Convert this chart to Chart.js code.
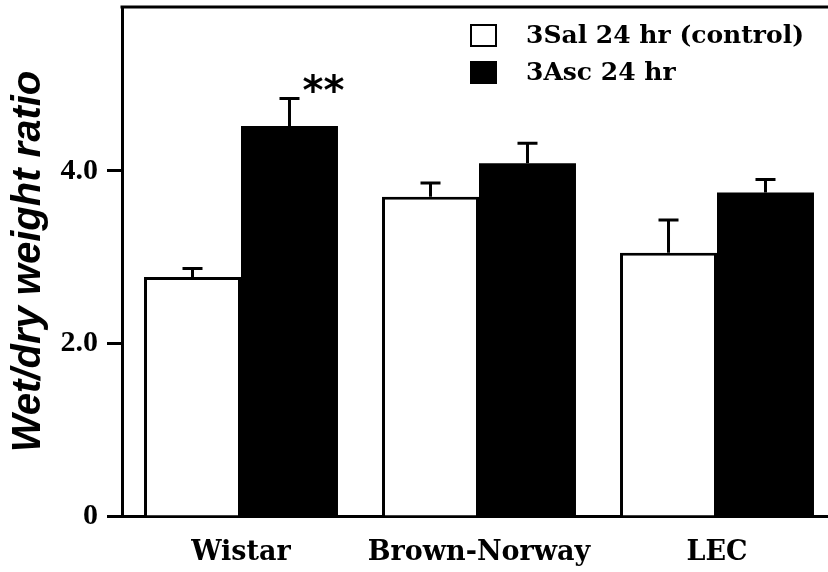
<!DOCTYPE html>
<html>
<head>
<meta charset="utf-8">
<script src="https://cdn.jsdelivr.net/npm/chart.js@4.4.1/dist/chart.umd.min.js"></script>
<style>
  html, body { margin: 0; padding: 0; background: #ffffff; overflow: hidden; }
  #wrap { width: 828px; height: 572px; overflow: hidden; }
  canvas { display: block; }
</style>
</head>
<body>
<div id="wrap"><canvas id="c" width="836" height="572"></canvas></div>
<script>
// ---- data ----
const categories = ['Wistar', 'Brown-Norway', 'LEC'];
const seriesLabels = ['3Sal 24 hr (control)', '3Asc 24 hr'];
const controlValues = [2.77, 3.70, 3.05];
const controlErrors = [0.10, 0.16, 0.38];
const ascValues = [4.52, 4.09, 3.75];
const ascErrors = [0.32, 0.23, 0.15];
const ascSignificance = ['**', '', ''];
const yTickValues = [0, 2, 4];
const yTickLabels = ['0', '2.0', '4.0'];
const yAxisTitle = 'Wet/dry weight ratio';

const serif = '"Liberation Serif", "Times New Roman", serif';
const wideSerif = '"DejaVu Serif", serif';

const errorBarPlugin = {
  id: 'errorBars',
  afterDatasetsDraw(chart) {
    const ctx = chart.ctx;
    const yScale = chart.scales.y;
    chart.data.datasets.forEach((ds, di) => {
      const meta = chart.getDatasetMeta(di);
      meta.data.forEach((bar, i) => {
        const v = ds.data[i];
        const e = ds.errors[i];
        const yTop = yScale.getPixelForValue(v + e);
        const yBar = yScale.getPixelForValue(v);
        ctx.save();
        ctx.strokeStyle = '#000';
        ctx.lineWidth = 3;
        ctx.beginPath();
        ctx.moveTo(bar.x, yBar);
        ctx.lineTo(bar.x, yTop);
        ctx.moveTo(bar.x - 10, yTop);
        ctx.lineTo(bar.x + 10, yTop);
        ctx.stroke();
        const sig = ds.significance ? ds.significance[i] : '';
        if (sig) {
          ctx.fillStyle = '#000';
          ctx.font = 'bold 40px "DejaVu Sans", sans-serif';
          ctx.textAlign = 'center';
          ctx.textBaseline = 'middle';
          ctx.fillText(sig, bar.x + 34, yTop - 5);
        }
        ctx.restore();
      });
    });
  }
};

const framePlugin = {
  id: 'frame',
  afterDraw(chart) {
    const ctx = chart.ctx;
    const a = chart.chartArea;
    ctx.save();
    ctx.strokeStyle = '#000';
    ctx.lineWidth = 3;
    ctx.beginPath();
    ctx.moveTo(a.left - 1.5, a.top);
    ctx.lineTo(chart.width, a.top);
    ctx.stroke();
    ctx.restore();
  }
};

const legendPlugin = {
  id: 'customLegend',
  afterDraw(chart) {
    const ctx = chart.ctx;
    const boxX = 470, boxW = 27, boxH = 23;
    const rowsY = [24, 61];
    ctx.save();
    chart.data.datasets.forEach((ds, i) => {
      const y = rowsY[i];
      ctx.fillStyle = ds.backgroundColor;
      ctx.fillRect(boxX, y, boxW, boxH);
      ctx.strokeStyle = '#000';
      ctx.lineWidth = 2;
      ctx.strokeRect(boxX + 1, y + 1, boxW - 2, boxH - 2);
      ctx.fillStyle = '#000';
      ctx.font = 'bold 25px ' + wideSerif;
      ctx.textAlign = 'left';
      ctx.textBaseline = 'alphabetic';
      ctx.fillText(ds.label, 526, y + 19);
    });
    ctx.restore();
  }
};

new Chart(document.getElementById('c'), {
  type: 'bar',
  data: {
    labels: categories,
    datasets: [
      {
        label: seriesLabels[0],
        data: controlValues,
        errors: controlErrors,
        backgroundColor: '#ffffff',
        borderColor: '#000000',
        borderWidth: 3,
        borderSkipped: 'bottom'
      },
      {
        label: seriesLabels[1],
        data: ascValues,
        errors: ascErrors,
        significance: ascSignificance,
        backgroundColor: '#000000',
        borderColor: '#000000',
        borderWidth: 0
      }
    ]
  },
  options: {
    responsive: false,
    animation: false,
    devicePixelRatio: 1,
    layout: { padding: { left: 0, right: 0, top: 7, bottom: 0 } },
    categoryPercentage: 0.815,
    barPercentage: 1.0,
    plugins: {
      legend: { display: false },
      tooltip: { enabled: false }
    },
    scales: {
      x: {
        type: 'category',
        offset: true,
        grid: { display: false, drawTicks: false },
        border: { display: true, color: '#000', width: 3 },
        ticks: {
          color: '#000',
          font: { family: wideSerif, size: 27, weight: 'bold' },
          padding: 21,
          maxRotation: 0
        },
        afterFit(scale) {
          scale.height = 56;
          scale.paddingLeft = 0; scale.paddingRight = 0;
          scale.paddingTop = 0; scale.paddingBottom = 0;
        }
      },
      y: {
        min: 0,
        max: 5.9,
        afterBuildTicks(scale) {
          scale.ticks = yTickValues.map(v => ({ value: v }));
        },
        grid: {
          display: true,
          drawOnChartArea: false,
          drawTicks: true,
          tickLength: 15,
          tickWidth: 3,
          tickColor: '#000'
        },
        border: { display: true, color: '#000', width: 3 },
        ticks: {
          color: '#000',
          font: { family: serif, size: 30, weight: 'bold' },
          padding: 9,
          callback: (v, i) => yTickLabels[i]
        },
        title: {
          display: true,
          text: yAxisTitle,
          color: '#000',
          font: { family: '"Liberation Sans", Arial, sans-serif', size: 40, weight: 'bold', style: 'italic' },
          padding: { top: 5, bottom: 0 }
        },
        afterFit(scale) {
          scale.width = 122;
          scale.paddingLeft = 0; scale.paddingRight = 0;
          scale.paddingTop = 0; scale.paddingBottom = 0;
        }
      }
    }
  },
  plugins: [errorBarPlugin, framePlugin, legendPlugin]
});
</script>
</body>
</html>
